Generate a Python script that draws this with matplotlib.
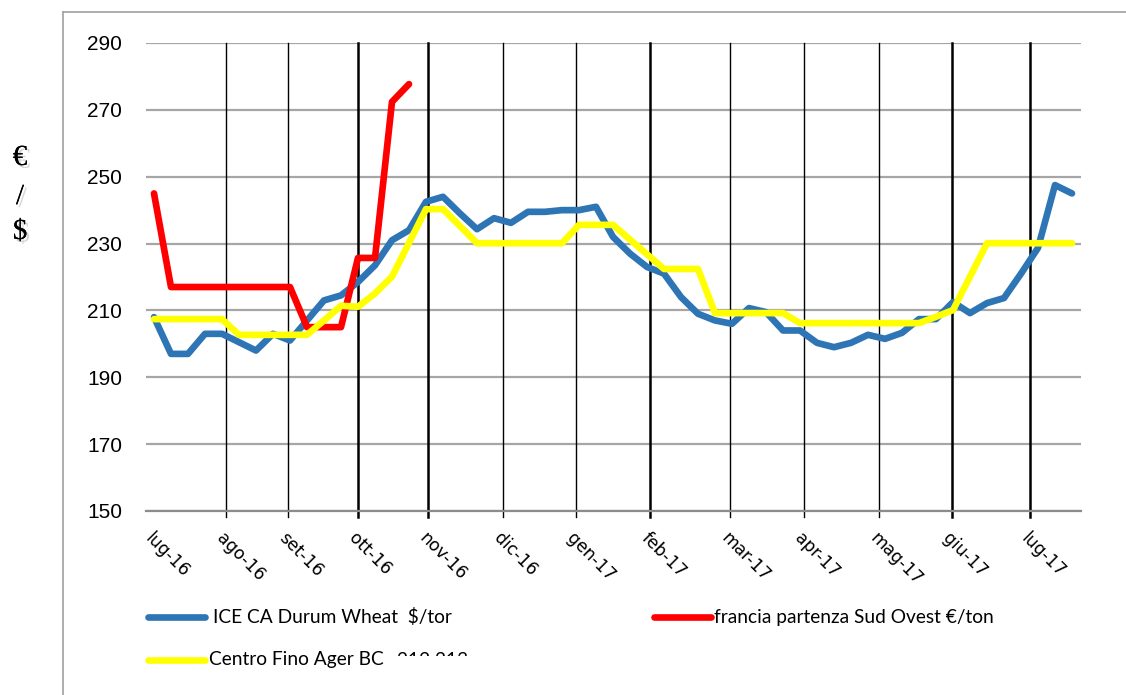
import numpy as np
import matplotlib
matplotlib.use("Agg")
import matplotlib.pyplot as plt
import matplotlib.patheffects as pe
from matplotlib.lines import Line2D
from matplotlib.transforms import Bbox

# weekly values, jul-2016 .. jul-2017
ice_durum = [208, 197, 197, 203, 203, 200.5, 198, 203, 201, 207, 213, 214.5, 218.5, 223.5,
             231, 234, 242.5, 244, 239, 234.3, 237.6, 236.2, 239.5, 239.5, 240, 240, 241, 232,
             227, 223, 221, 214, 209, 207, 206, 210.7, 209.5, 204, 204, 200.3, 199, 200.3,
             202.7, 201.5, 203.3, 207.4, 207.4, 212.5, 209.2, 212.2, 213.7, 221, 228.7, 247.5, 245]
francia = [245, 217, 217, 217, 217, 217, 217, 217, 217, 205, 205, 205, 225.7, 225.7, 272.4, 277.7]
centro = [207.4, 207.4, 207.4, 207.4, 207.4, 202.7, 202.7, 202.7, 202.7, 202.7, 207, 211.4,
          211.1, 215.1, 220.1, 230.2, 240.3, 240.3, 235.2, 230.1, 230.1, 230.1, 230.1, 230.1,
          230.1, 235.6, 235.6, 235.6, 231.2, 226.8, 222.4, 222.4, 222.4, 209.2, 209.2, 209.2,
          209.2, 209.2, 206.2, 206.2, 206.2, 206.2, 206.2, 206.2, 206.2, 206.2, 208.1, 210.1,
          220.1, 230.1, 230.1, 230.1, 230.1, 230.1, 230.1]

month_labels = ["lug-16", "ago-16", "set-16", "ott-16", "nov-16", "dic-16", "gen-17",
                "feb-17", "mar-17", "apr-17", "mag-17", "giu-17", "lug-17"]
month_pos = [0, 4.24, 7.88, 12.0, 16.12, 20.53, 24.82, 29.18, 33.88, 38.24, 42.65, 46.94, 51.53]
month_lw = [1.0, 1.0, 1.8, 1.8, 1.0, 1.0, 1.8, 1.0, 1.0, 1.0, 1.8, 1.8]

legend_names = ["ICE CA Durum Wheat  $/tor", "francia partenza Sud Ovest \u20ac/ton",
                "Centro Fino Ager BC"]

W, H = 1126, 695
fig = plt.figure(figsize=(W / 100, H / 100), dpi=100)
ax = fig.add_axes([145.5 / W, 1 - 511 / H, 935 / W, 468 / H])

weeks = np.arange(len(ice_durum))
fr = np.full(len(weeks), np.nan)
fr[:len(francia)] = francia

blue, red, yellow = "#2e75b6", "#ff0000", "#ffff00"
kw = dict(lw=4.8, solid_capstyle="round", solid_joinstyle="round", zorder=3)
ax.plot(weeks, ice_durum, color=blue, **kw)
ax.plot(weeks, fr, color=red, **kw)
ax.plot(weeks, centro, color=yellow, **kw)

ax.set_xlim(-0.5, 54.5)
ax.set_ylim(150, 290)
ax.set_yticks(np.arange(150, 291, 20))
ax.yaxis.grid(True, color="#a6a6a6", lw=1.6)
ax.set_axisbelow(True)
for p, lw in zip(month_pos[1:], month_lw):
    ax.axvline(p, ymin=-0.012, ymax=1, color="black", lw=lw, clip_on=False, zorder=1)

ax.set_xticks(month_pos)
ax.set_xticklabels(month_labels, rotation=-45, ha="left", va="top",
                   rotation_mode="anchor", fontsize=12.3, family="DejaVu Sans")
ax.tick_params(axis="x", length=0, pad=13)
ax.tick_params(axis="y", length=0, pad=17, labelsize=15)
for lab in ax.get_yticklabels():
    lab.set_family("Liberation Sans")
for s in ["left", "right", "top"]:
    ax.spines[s].set_visible(False)
ax.spines["bottom"].set_color("#8c8c8c")
ax.spines["bottom"].set_linewidth(1.6)

# y label, one glyph per line
shadow = [pe.withSimplePatchShadow(offset=(2, -2), shadow_rgbFace="#888888", alpha=0.35), pe.Normal()]
for ch, yy in zip(["\u20ac", "/", "$"], [158, 197, 232]):
    fig.text(20 / W, 1 - yy / H, ch, fontsize=21, family="Liberation Serif",
             ha="center", va="center", path_effects=shadow)

# chart border
fig.add_artist(Line2D([63 / W, 63 / W], [0, 1 - 12 / H], color="#a0a0a0", lw=1.2))
fig.add_artist(Line2D([63 / W, 1], [1 - 12 / H, 1 - 12 / H], color="#a0a0a0", lw=1.2))

# legend
leg = [(148, 617, blue, legend_names[0], 213),
       (654, 617, red, legend_names[1], 714),
       (148, 660, yellow, legend_names[2], 209)]
for x0, yy, c, name, tx in leg:
    fig.add_artist(Line2D([x0 / W, (x0 + 57) / W], [1 - yy / H] * 2, color=c, lw=4.8,
                          solid_capstyle="round"))
    fig.text(tx / W, 1 - yy / H, name, fontsize=13.8, family="Lato", va="center")

cut = fig.text(397 / W, 1 - 660 / H, "212 213", fontsize=13.8, family="Lato", va="center")
cut.set_clip_box(Bbox.from_extents(390, H - 656, 480, H - 640))
cut.set_clip_on(True)

fig.savefig("out.png", dpi=100)
